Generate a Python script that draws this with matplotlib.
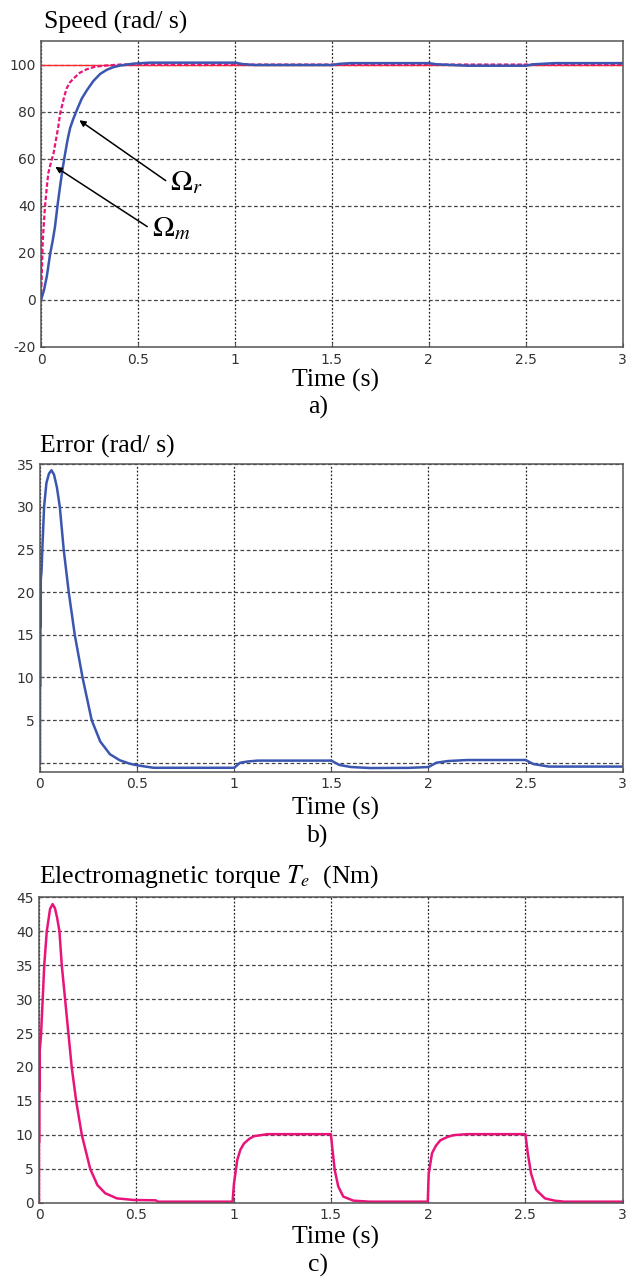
import numpy as np
import matplotlib.pyplot as plt

plt.rcParams['mathtext.fontset'] = 'stix'

# speed (rad/s)
ref_t = [0, 3]
ref_v = [100, 100]

wr_t = [0, 0.009, 0.02, 0.03, 0.038, 0.047, 0.055, 0.064, 0.075, 0.09, 0.098, 0.107, 0.12, 0.133, 0.15,
        0.167, 0.2, 0.236, 0.28, 0.34, 0.41, 0.5, 3.0]
wr_v = [0, 25, 39, 48, 54, 57, 59.5, 62, 67, 74, 79, 82, 86.5, 90, 92.5,
        94, 96.5, 98, 99.1, 99.6, 100, 100, 100]

wm_t = [0, 0.015, 0.03, 0.047, 0.06, 0.072, 0.085, 0.098, 0.11, 0.124, 0.137, 0.15, 0.167, 0.184, 0.21,
        0.236, 0.27, 0.305, 0.34, 0.374, 0.41, 0.443, 0.48, 0.56, 1.0, 1.04, 1.1, 1.5, 1.54, 1.6,
        2.0, 2.04, 2.2, 2.5, 2.54, 2.65, 3.0]
wm_v = [0, 4, 10, 19.5, 25, 31, 40, 48, 55, 62, 68, 73, 77, 80.5, 85.5,
        89, 93, 96, 97.8, 98.9, 99.6, 100, 100.4, 100.8, 100.8, 100.2, 99.8, 99.8, 100.3, 100.6,
        100.6, 100.1, 99.5, 99.5, 100.1, 100.6, 100.6]

# speed error (rad/s)
err_t = [0, 0, 0.002, 0.002, 0.004, 0.004, 0.008, 0.012, 0.021, 0.033, 0.046, 0.059, 0.072, 0.087,
         0.102, 0.122, 0.148, 0.179, 0.219, 0.266, 0.31, 0.36, 0.41, 0.46, 0.5, 0.584, 1.0,
         1.03, 1.07, 1.12, 1.5, 1.54, 1.6, 1.7, 1.9, 2.0, 2.04, 2.1, 2.2, 2.5, 2.54, 2.62, 3.0]
err_v = [0, 9, 9, 16, 16, 21.5, 22.5, 25, 30, 32.8, 33.9, 34.3, 33.8, 32.3,
         30, 25, 20, 15, 10, 5, 2.5, 1.0, 0.3, -0.1, -0.3, -0.59, -0.59,
         0, 0.15, 0.25, 0.25, -0.25, -0.5, -0.62, -0.6, -0.5, 0, 0.2, 0.32, 0.32, -0.15, -0.45, -0.45]

# electromagnetic torque (Nm)
te_t = [0, 0, 0.002, 0.002, 0.004, 0.004, 0.01, 0.019, 0.027, 0.04, 0.057, 0.07, 0.082, 0.093,
        0.105, 0.117, 0.134, 0.151, 0.168, 0.191, 0.22, 0.263, 0.3, 0.34, 0.4, 0.486, 0.6, 0.61, 0.995,
        1.002, 1.019, 1.035, 1.053, 1.08, 1.105, 1.174, 1.5,
        1.507, 1.52, 1.538, 1.564, 1.616, 1.7, 1.998,
        2.003, 2.02, 2.04, 2.063, 2.1, 2.13, 2.2, 2.5,
        2.512, 2.529, 2.555, 2.6, 2.65, 2.7, 3.0]
te_v = [0, 9, 9, 16.5, 16.5, 22.5, 24.5, 30, 35, 40, 43.3, 44, 43.4, 42,
        40, 35, 30, 25, 20, 15, 10, 5, 2.6, 1.4, 0.64, 0.4, 0.35, 0.15, 0.15,
        2.8, 6.3, 7.8, 8.7, 9.4, 9.8, 10.1, 10.1,
        8.2, 4.8, 2.4, 0.9, 0.3, 0.15, 0.15,
        4.3, 7.3, 8.4, 9.2, 9.7, 9.95, 10.1, 10.1,
        7.3, 4.3, 1.9, 0.64, 0.3, 0.15, 0.15]

blue = '#3a56b0'
pink = '#e8147a'

W, H = 628, 1279
fig = plt.figure(figsize=(W / 100, H / 100), dpi=100)

def box(l, t, r, b):
    return [l / W, 1 - b / H, (r - l) / W, (b - t) / H]

def style(ax, yticks, ylabels, ylim):
    ax.set_xlim(0, 3)
    ax.set_ylim(*ylim)
    ax.set_xticks([0, 0.5, 1, 1.5, 2, 2.5, 3])
    ax.set_xticklabels(['0', '0.5', '1', '1.5', '2', '2.5', '3'])
    ax.set_yticks(yticks)
    ax.set_yticklabels(ylabels)
    ax.tick_params(direction='in', length=3, labelsize=10, labelcolor='#333333', color='#555555', pad=4)
    ax.xaxis.grid(True, linestyle=(0, (1.5, 1.5)), color='#222222', linewidth=0.9)
    ax.yaxis.grid(True, linestyle=(0, (3, 2)), color='#444444', linewidth=0.9)
    for s in ax.spines.values():
        s.set_color('#555555')
        s.set_linewidth(1.1)

serif = 'Liberation Serif'

# a) speed
ax1 = fig.add_axes(box(41, 41, 622.7, 347))
ax1.plot(ref_t, ref_v, color='#ff2a2a', lw=1)
ax1.plot(wr_t, wr_v, color=pink, lw=1.6, ls=(0, (2, 1)))
ax1.plot(wm_t, wm_v, color=blue, lw=1.8)
style(ax1, [-20, 0, 20, 40, 60, 80, 100], ['-20', '0', '20', '40', '60', '80', '100'], (-20, 110))
ax1.annotate('', xy=(0.186, 77), xytext=(0.655, 50),
             arrowprops=dict(arrowstyle='-|>', color='black', lw=1.1, mutation_scale=9))
ax1.annotate('', xy=(0.062, 57.2), xytext=(0.56, 30.5),
             arrowprops=dict(arrowstyle='-|>', color='black', lw=1.1, mutation_scale=9))
ax1.text(0.665, 50, r'$\Omega_r$', fontsize=21, va='center', ha='left')
ax1.text(0.57, 30.5, r'$\Omega_m$', fontsize=21, va='center', ha='left')

# b) error
ax2 = fig.add_axes(box(40, 464.3, 622.7, 771.7))
ax2.plot(err_t, err_v, color=blue, lw=1.8)
style(ax2, [0, 5, 10, 15, 20, 25, 30, 35], ['', '5', '10', '15', '20', '25', '30', '35'], (-1.05, 35))

# c) torque
ax3 = fig.add_axes(box(39, 897.3, 622.7, 1202.7))
ax3.plot(te_t, te_v, color=pink, lw=1.8)
style(ax3, [0, 5, 10, 15, 20, 25, 30, 35, 40, 45],
      ['0', '5', '10', '15', '20', '25', '30', '35', '40', '45'], (0, 45))

def ftext(x, y, s, **kw):
    fig.text(x / W, 1 - y / H, s, family=serif, fontsize=18.5, **kw)

ftext(44, 22, 'Speed (rad/ s)', ha='left', va='center')
ftext(335, 380, 'Time (s)', ha='center', va='center')
ftext(318, 407, 'a)', ha='center', va='center')

ftext(40, 446, 'Error (rad/ s)', ha='left', va='center')
ftext(335, 808, 'Time (s)', ha='center', va='center')
ftext(318, 836, 'b)', ha='center', va='center')

ftext(39, 877, r'Electromagnetic torque $T_e$  (Nm)', ha='left', va='center')
ftext(335, 1237, 'Time (s)', ha='center', va='center')
ftext(318, 1265, 'c)', ha='center', va='center')

fig.savefig('out.png', dpi=100, facecolor='white')
